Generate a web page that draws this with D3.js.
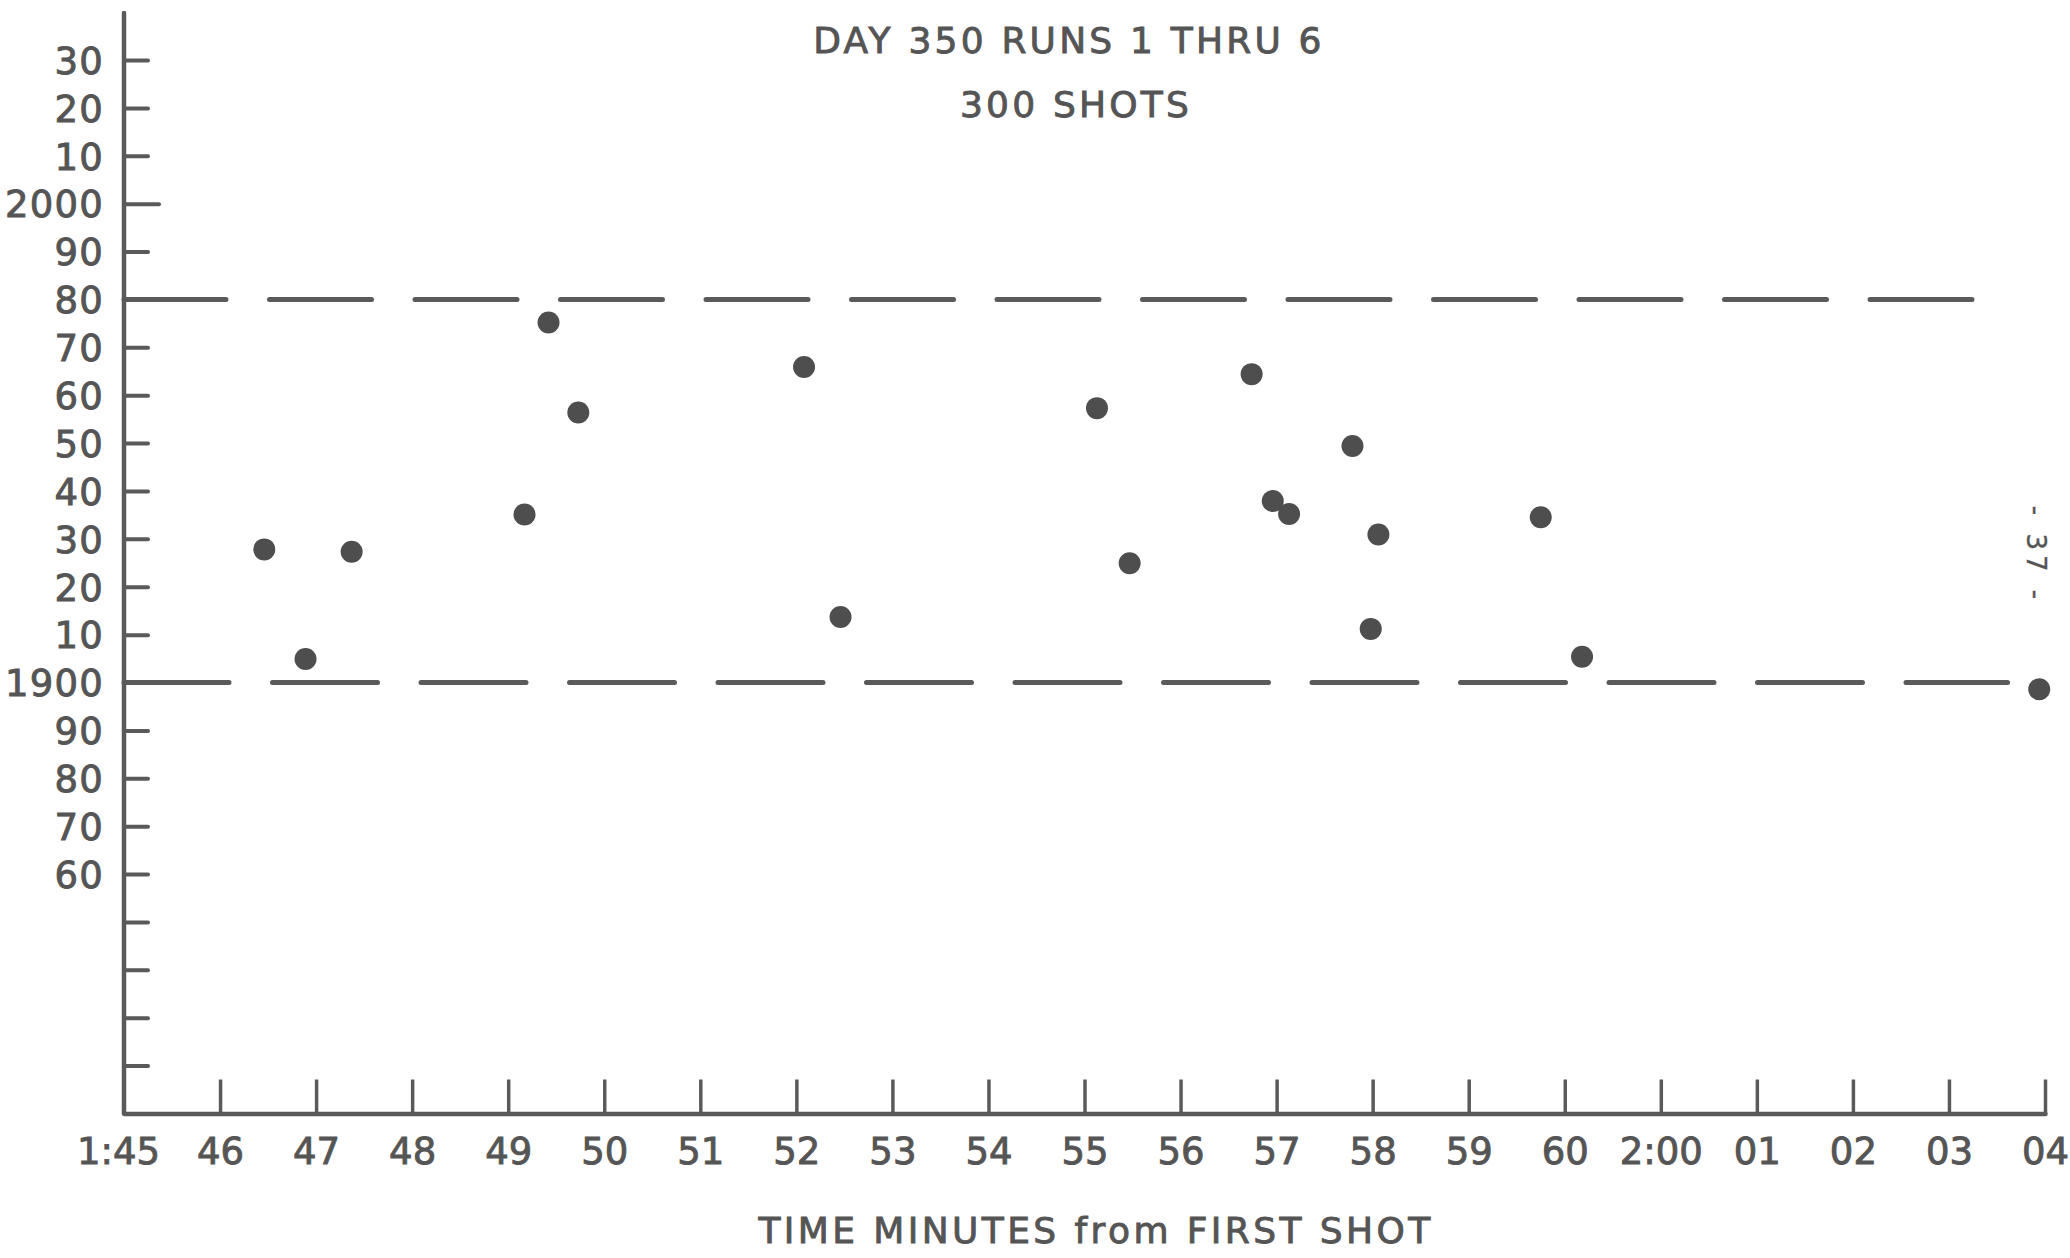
<!DOCTYPE html>
<html>
<head>
<meta charset="utf-8">
<script src="https://cdn.jsdelivr.net/npm/d3@7"></script>
<style>
    body { margin: 0; background: #fff; }
    svg text { font-family: "DejaVu Sans", "Noto Sans", sans-serif; fill: #555; stroke: #555; stroke-width: 0.9; }
</style>
</head>
<body>
<div id="chart"></div>
<script>
// tick labels on the time axis (60 and 2:00 are separate ticks on the original)
const timeLabels = ["1:45", "46", "47", "48", "49", "50", "51", "52", "53", "54", "55",
    "56", "57", "58", "59", "60", "2:00", "01", "02", "03", "04"];

// shot times, in tick units from 1:45
const shotTime = [1.46, 1.89, 2.37, 4.17, 4.42, 4.73, 7.08, 7.46, 10.13, 10.47,
    11.74, 11.96, 12.13, 12.79, 12.98, 13.06, 14.75, 15.18, 19.94];
const shotValue = [1927.8, 1904.9, 1927.3, 1935.1, 1975.2, 1956.4, 1965.9, 1913.7, 1957.3, 1924.9,
    1964.4, 1937.9, 1935.2, 1949.4, 1911.2, 1930.9, 1934.5, 1905.4, 1898.6];

// dashed limit lines: value and where the drawn dashes stop
const limitValue = [1980, 1900];
const limitEnd = [19.26, 19.61];

const yTicks = d3.range(1820, 2031, 10);

const width = 2070, height = 1258;
const ink = "#5a5a5a";

let svg = d3.select("#chart").append("svg")
    .attr("width", width)
    .attr("height", height);

let x = d3.scaleLinear().domain([0, 20]).range([124, 2045]);
let y = d3.scaleLinear().domain([1810, 2030]).range([1113.5, 60]);

// y axis, ticks point inward
let yAxis = d3.axisLeft(y)
    .tickValues(yTicks)
    .tickSizeInner(-24)
    .tickSizeOuter(0)
    .tickPadding(20)
    .tickFormat(d => {
        if (d <= 1850) return "";
        if (d === 2000 || d === 1900) return String(d);
        return String(d % 100).padStart(2, "0");
    });

let gy = svg.append("g").attr("transform", `translate(${x(0)},0)`).call(yAxis);
gy.select(".domain").remove();
gy.selectAll(".tick line").attr("stroke", ink).attr("stroke-width", 4)
    .attr("stroke-linecap", "round")
    .attr("x2", d => d === 2000 ? 35 : 24);
gy.selectAll(".tick text").attr("font-size", 37).attr("dy", "0.36em").attr("letter-spacing", 1.2);

svg.append("line")
    .attr("x1", x(0)).attr("x2", x(0))
    .attr("y1", y(2039.8)).attr("y2", y(1810))
    .attr("stroke", ink).attr("stroke-width", 4.5).attr("stroke-linecap", "round");

// x axis, ticks point up
let xAxis = d3.axisBottom(x)
    .tickValues(d3.range(0, 21))
    .tickSizeInner(-34)
    .tickSizeOuter(0)
    .tickFormat(i => timeLabels[i]);

let gx = svg.append("g").attr("transform", `translate(0,${y(1810)})`).call(xAxis);
gx.select(".domain").attr("stroke", ink).attr("stroke-width", 4.5).attr("stroke-linecap", "round");
gx.selectAll(".tick line").attr("stroke", ink).attr("stroke-width", 3.5);
gx.selectAll(".tick").filter(i => i === 0).select("line").remove();
gx.selectAll(".tick text").attr("font-size", 37).attr("y", 50).attr("dy", 0)
    .attr("dx", i => i === 0 ? -6 : 0);

// dashed limit lines
svg.selectAll(".limit")
    .data(limitValue)
    .enter().append("line")
    .attr("class", "limit")
    .attr("x1", x(0))
    .attr("x2", (d, i) => x(limitEnd[i]))
    .attr("y1", d => y(d))
    .attr("y2", d => y(d))
    .attr("stroke", ink)
    .attr("stroke-width", 5)
    .attr("stroke-linecap", "round")
    .attr("stroke-dasharray", (d, i) => i === 0 ? "102,43.5" : "105,43.5");

// shots
svg.selectAll(".shot")
    .data(shotTime)
    .enter().append("circle")
    .attr("class", "shot")
    .attr("cx", d => x(d))
    .attr("cy", (d, i) => y(shotValue[i]))
    .attr("r", 11)
    .attr("fill", "#4e4e4e");

// titles
svg.append("text").attr("x", 1069).attr("y", 53)
    .attr("text-anchor", "middle").attr("font-size", 36).attr("letter-spacing", 3.2)
    .text("DAY 350 RUNS 1 THRU 6");
svg.append("text").attr("x", 1076).attr("y", 117)
    .attr("text-anchor", "middle").attr("font-size", 36).attr("letter-spacing", 3.2)
    .text("300 SHOTS");
svg.append("text").attr("x", 1096).attr("y", 1243)
    .attr("text-anchor", "middle").attr("font-size", 36).attr("letter-spacing", 3.4)
    .text("TIME MINUTES from FIRST SHOT");

// page number
svg.append("text")
    .attr("transform", "translate(2027,555) rotate(90)")
    .attr("text-anchor", "middle").attr("font-size", 26)
    .attr("letter-spacing", 5)
    .style("stroke-width", 0.4)
    .text("- 37 -");
</script>
</body>
</html>
